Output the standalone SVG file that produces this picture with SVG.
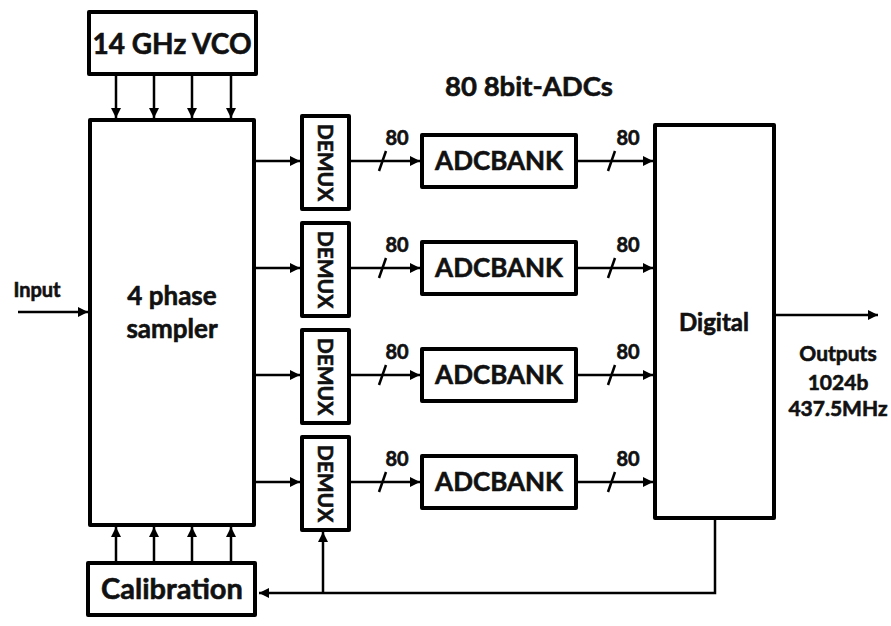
<svg xmlns="http://www.w3.org/2000/svg" width="891" height="626" viewBox="0 0 891 626">
<defs>
<marker id="ah" viewBox="0 0 10 10" refX="10" refY="5" markerWidth="10" markerHeight="10" markerUnits="userSpaceOnUse" orient="auto">
<path d="M0,0 L10,5 L0,10 Z" fill="#000"/>
</marker>
</defs>
<style>
.box{fill:#fff;stroke:#000;stroke-width:4;stroke-linejoin:round}
.ln{fill:none;stroke:#000;stroke-width:2.5}
.ar{fill:none;stroke:#000;stroke-width:2.5;marker-end:url(#ah)}
text{font-family:Lato,"Open Sans","Liberation Sans",sans-serif;font-weight:bold;fill:#111;stroke:#111;stroke-width:0.6}
.big{font-size:28px}
.mid{font-size:26px}
.sm{font-size:20px}
.dm{font-size:21px}
.out{font-size:21px}
</style>
<rect width="891" height="626" fill="#fff"/>
<g id="connectors">
<line class="ar" x1="116" y1="75" x2="116" y2="118"/>
<line class="ar" x1="154" y1="75" x2="154" y2="118"/>
<line class="ar" x1="192" y1="75" x2="192" y2="118"/>
<line class="ar" x1="231" y1="75" x2="231" y2="118"/>
<line class="ar" x1="116" y1="562" x2="116" y2="527"/>
<line class="ar" x1="154" y1="562" x2="154" y2="527"/>
<line class="ar" x1="192" y1="562" x2="192" y2="527"/>
<line class="ar" x1="231" y1="562" x2="231" y2="527"/>
<line class="ar" x1="18" y1="312" x2="88" y2="312"/>
<line class="ar" x1="255" y1="161" x2="300" y2="161"/>
<line class="ar" x1="255" y1="268" x2="300" y2="268"/>
<line class="ar" x1="255" y1="375" x2="300" y2="375"/>
<line class="ar" x1="255" y1="482" x2="300" y2="482"/>
<line class="ar" x1="351" y1="161" x2="420" y2="161"/>
<line class="ar" x1="351" y1="268" x2="420" y2="268"/>
<line class="ar" x1="351" y1="375" x2="420" y2="375"/>
<line class="ar" x1="351" y1="482" x2="420" y2="482"/>
<line class="ar" x1="578" y1="161" x2="653" y2="161"/>
<line class="ar" x1="578" y1="268" x2="653" y2="268"/>
<line class="ar" x1="578" y1="375" x2="653" y2="375"/>
<line class="ar" x1="578" y1="482" x2="653" y2="482"/>
<g class="ln">
<line x1="379" y1="171" x2="386" y2="151"/>
<line x1="379" y1="278" x2="386" y2="258"/>
<line x1="379" y1="385" x2="386" y2="365"/>
<line x1="379" y1="492" x2="386" y2="472"/>
<line x1="608" y1="171" x2="615" y2="151"/>
<line x1="608" y1="278" x2="615" y2="258"/>
<line x1="608" y1="385" x2="615" y2="365"/>
<line x1="608" y1="492" x2="615" y2="472"/>
</g>
<line class="ar" x1="776" y1="315" x2="878" y2="315"/>
<polyline class="ar" points="715,520 715,593 259,593"/>
<line class="ar" x1="323" y1="593" x2="323" y2="532"/>
</g>
<g id="vco"><rect class="box" x="89" y="12" width="167" height="62"/><text class="big" x="172" y="54" text-anchor="middle">14 GHz VCO</text></g>
<g id="sampler"><rect class="box" x="90" y="120" width="164" height="405"/><text class="mid" x="172" y="305" text-anchor="middle">4 phase</text><text class="mid" x="172" y="338" text-anchor="middle">sampler</text></g>
<g id="calibration"><rect class="box" x="88" y="563" width="167" height="52"/><text style="font-size:29px" x="172" y="599" text-anchor="middle">Calibration</text></g>
<g id="demux1"><rect class="box" x="302" y="116" width="47" height="93"/><text class="dm" transform="translate(318,162.5) rotate(90)" text-anchor="middle">DEMUX</text></g>
<g id="demux2"><rect class="box" x="302" y="223" width="47" height="93"/><text class="dm" transform="translate(318,269.5) rotate(90)" text-anchor="middle">DEMUX</text></g>
<g id="demux3"><rect class="box" x="302" y="330" width="47" height="93"/><text class="dm" transform="translate(318,376.5) rotate(90)" text-anchor="middle">DEMUX</text></g>
<g id="demux4"><rect class="box" x="302" y="437" width="47" height="93"/><text class="dm" transform="translate(318,483.5) rotate(90)" text-anchor="middle">DEMUX</text></g>
<g id="adc1"><rect class="box" x="422" y="135" width="154" height="52"/><text class="mid" x="499" y="170" text-anchor="middle">ADCBANK</text></g>
<g id="adc2"><rect class="box" x="422" y="242" width="154" height="52"/><text class="mid" x="499" y="277" text-anchor="middle">ADCBANK</text></g>
<g id="adc3"><rect class="box" x="422" y="349" width="154" height="52"/><text class="mid" x="499" y="384" text-anchor="middle">ADCBANK</text></g>
<g id="adc4"><rect class="box" x="422" y="456" width="154" height="52"/><text class="mid" x="499" y="491" text-anchor="middle">ADCBANK</text></g>
<g id="digital"><rect class="box" x="655" y="125" width="119" height="393"/><text style="font-size:24px" x="714" y="331" text-anchor="middle">Digital</text></g>
<g id="labels">
<text style="font-size:27.5px" x="529" y="96" text-anchor="middle">80 8bit-ADCs</text>
<text class="sm" x="397" y="145" text-anchor="middle">80</text>
<text class="sm" x="397" y="252" text-anchor="middle">80</text>
<text class="sm" x="397" y="359" text-anchor="middle">80</text>
<text class="sm" x="397" y="466" text-anchor="middle">80</text>
<text class="sm" x="628" y="145" text-anchor="middle">80</text>
<text class="sm" x="628" y="252" text-anchor="middle">80</text>
<text class="sm" x="628" y="359" text-anchor="middle">80</text>
<text class="sm" x="628" y="466" text-anchor="middle">80</text>
<text style="font-size:20px" x="37" y="297" text-anchor="middle">Input</text>
<text class="out" x="838" y="361" text-anchor="middle">Outputs</text>
<text class="out" x="838" y="390" text-anchor="middle">1024b</text>
<text class="out" x="838" y="416" text-anchor="middle">437.5MHz</text>
</g>
</svg>
